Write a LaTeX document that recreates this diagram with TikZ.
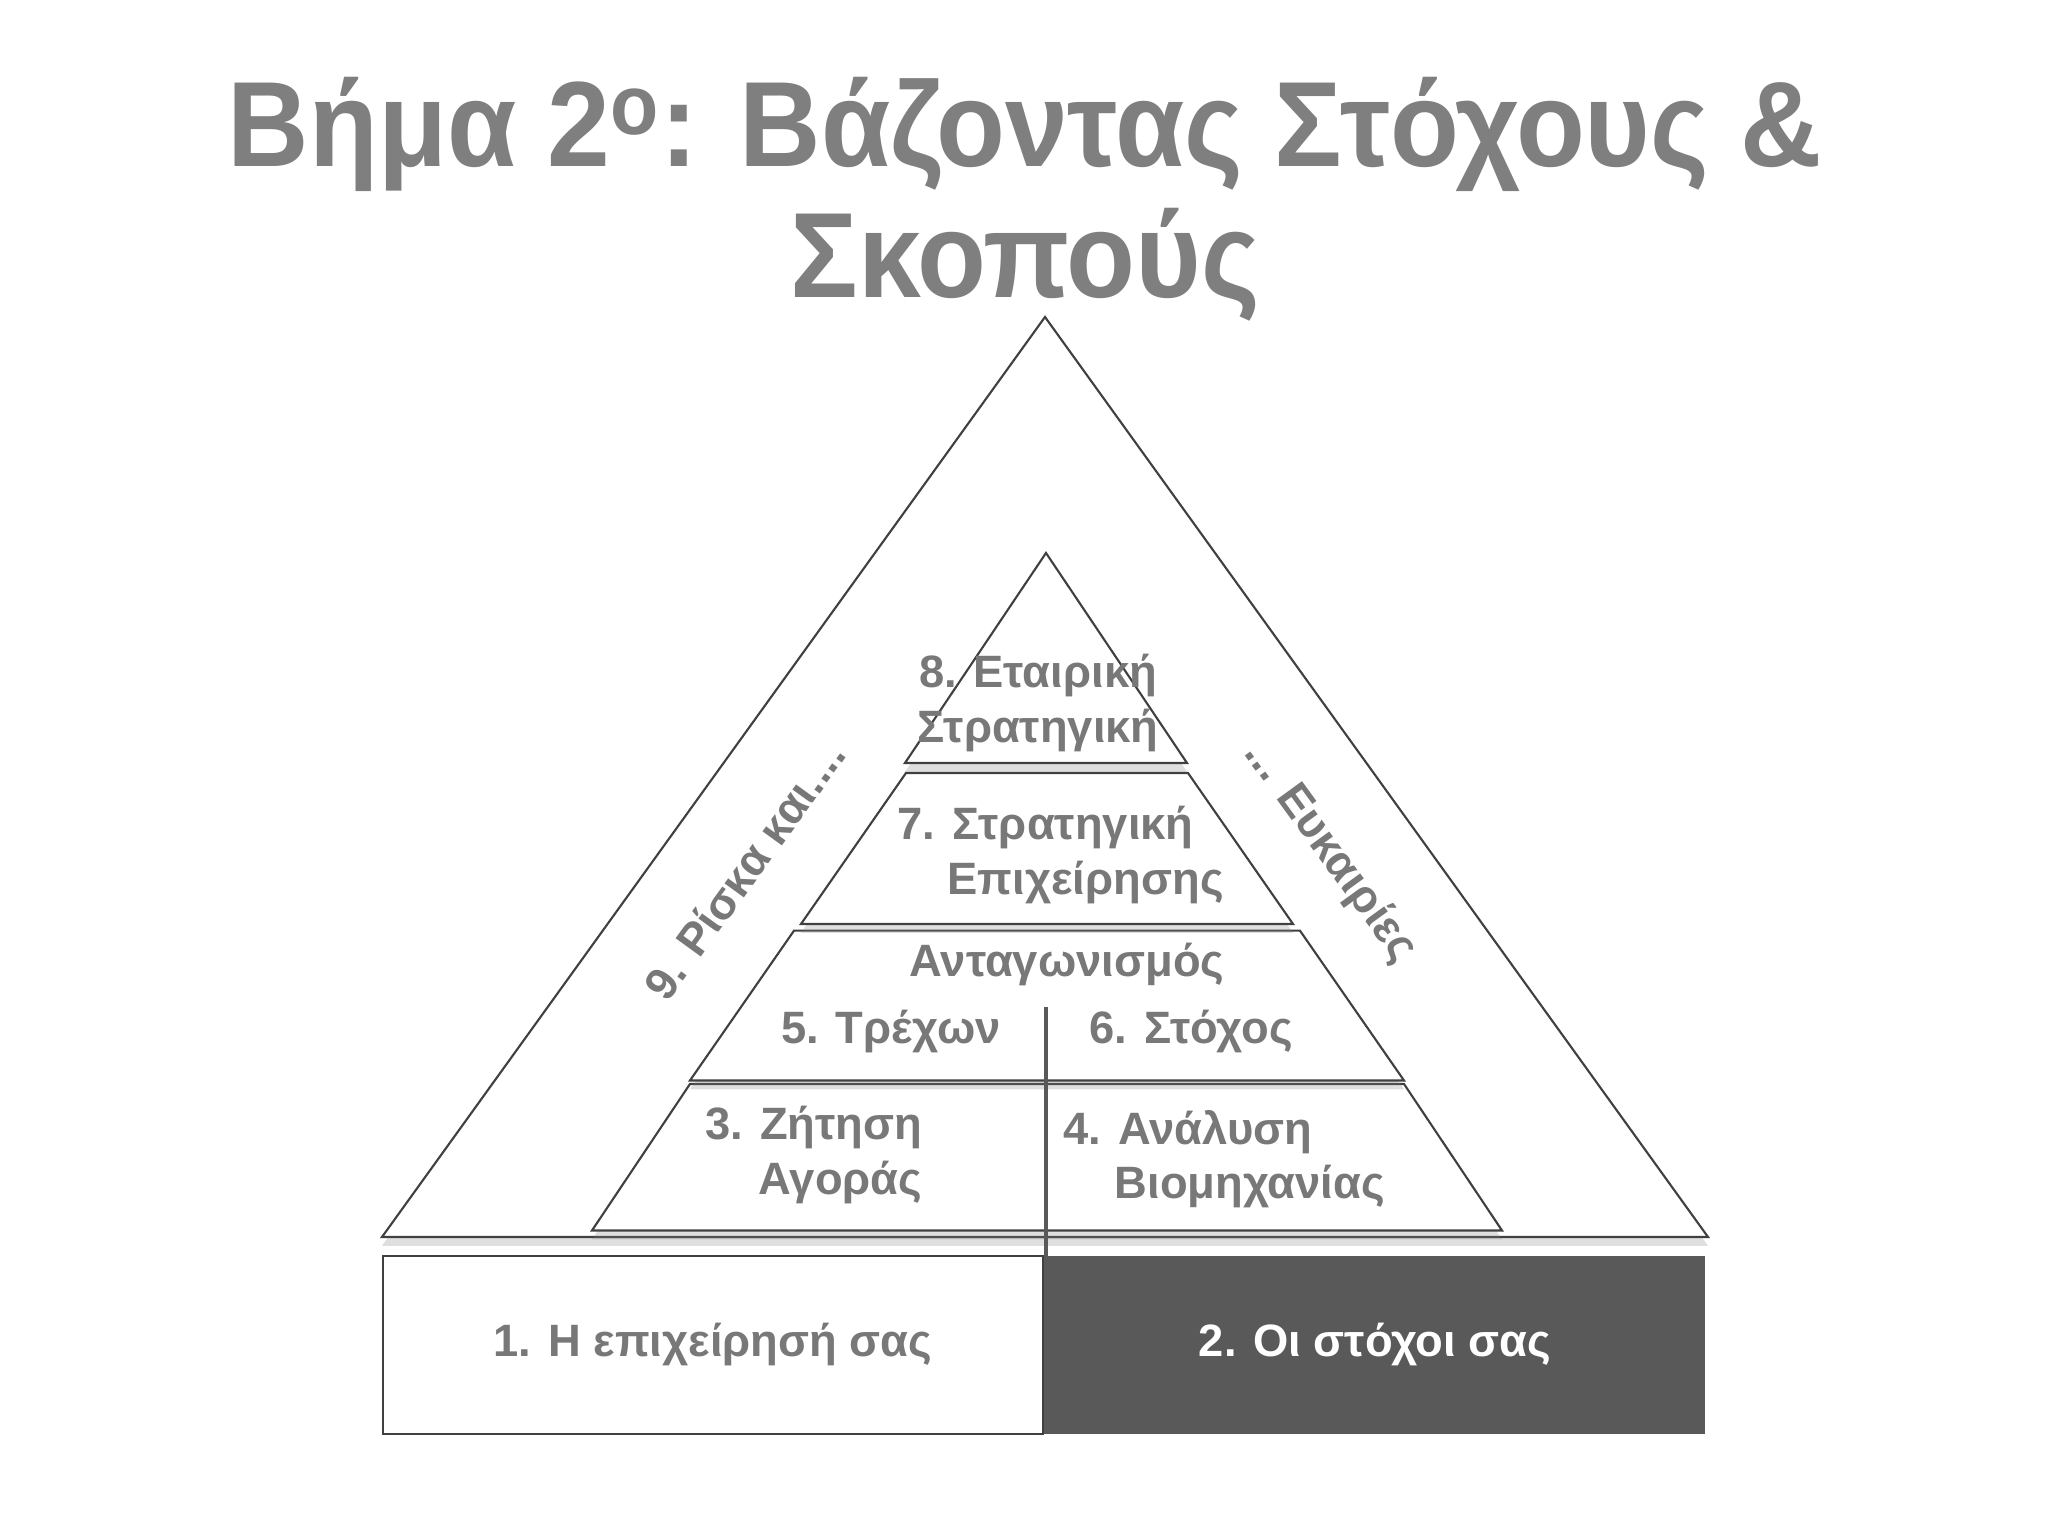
\documentclass[tikz,border=0pt]{standalone}
\usepackage{fontspec}
\setmainfont{Liberation Sans}
\newfontfamily\titlefont[FakeStretch=0.93]{Liberation Sans}
\usetikzlibrary{shadows}
\definecolor{txtgray}{HTML}{787878}
\definecolor{ttlgray}{HTML}{7F7F7F}
\definecolor{linegray}{HTML}{404040}
\definecolor{boxgray}{HTML}{595959}
\begin{document}
\begin{tikzpicture}[
    lbl/.style={font=\fontsize{12.9}{15.5}\selectfont\bfseries, text=txtgray, inner sep=0pt},
    layer/.style={draw=linegray, line width=0.6pt, fill=white,
                  drop shadow={shadow xshift=0pt, shadow yshift=-2.5pt, opacity=.25}}]
  \useasboundingbox[fill=white] (0,0) rectangle (20.48,15.36);
  \node[font=\titlefont\fontsize{34.5}{37.2}\selectfont\bfseries, text=ttlgray, align=center]
                     (title)     at (10.25,13.37) {Βήμα 2\textsuperscript{ο}: Βάζοντας Στόχους \&\\Σκοπούς};
  \draw[layer] (3.82,2.99) -- (10.45,12.19) -- (17.08,2.99) -- cycle;
  \draw[layer] (5.92,3.055) -- (6.90,4.52) -- (14.04,4.52) -- (15.02,3.055) -- cycle;
  \draw[layer] (6.90,4.555) -- (7.94,6.053) -- (13.00,6.053) -- (14.04,4.555) -- cycle;
  \draw[layer] (8.01,6.12) -- (9.06,7.63) -- (11.88,7.63) -- (12.93,6.12) -- cycle;
  \draw[layer] (9.05,7.73) -- (10.46,9.83) -- (11.87,7.73) -- cycle;
  \draw[draw=linegray, line width=0.5pt, fill=white] (3.83,1.02) rectangle (10.43,2.80);
  \fill[boxgray] (10.44,1.02) rectangle (17.05,2.80);
  \coordinate        (divtop)    at (10.46,5.29);
  \coordinate        (divbot)    at (10.46,1.14);
  \draw[boxgray, line width=1.4pt] (divtop) -- (divbot);
  \begin{scope}[every node/.style={lbl}]
    \node[rotate=54]   (risk)      at (7.44,6.66)   {9. Ρίσκα και....};
    \node[rotate=-54]  (chance)    at (13.30,6.84)  {... Ευκαιρίες};
    \node[align=center] (corp)     at (10.38,8.33)  {8. Εταιρική\\Στρατηγική};
    \node[align=left,anchor=west] (busstrat) at (8.97,6.81) {7. Στρατηγική\\\hspace*{0.5cm}Επιχείρησης};
    \node              (compet)    at (10.67,5.71)  {Ανταγωνισμός};
    \node              (current)   at (8.91,5.04)   {5. Τρέχων};
    \node              (target)    at (11.91,5.04)  {6. Στόχος};
    \node[align=right,anchor=east] (demand) at (9.23,3.81) {3. Ζήτηση\\Αγοράς};
    \node[align=left,anchor=west] (industry) at (10.63,3.77) {4. Ανάλυση\\\hspace*{0.51cm}Βιομηχανίας};
    \node              (yourbiz)   at (7.13,1.91)   {1. Η επιχείρησή σας};
    \node[text=white]  (yourgoals) at (13.75,1.91)  {2. Οι στόχοι σας};
  \end{scope}
\end{tikzpicture}
\end{document}
